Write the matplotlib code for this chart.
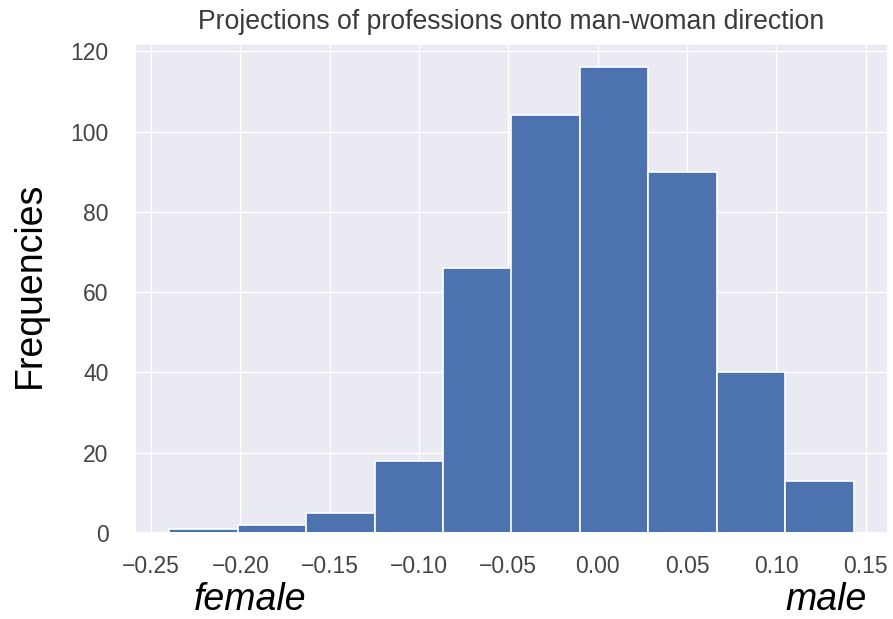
import numpy as np
import matplotlib
matplotlib.use("Agg")
import matplotlib.pyplot as plt
import seaborn as sns

# Data
bin_low = -0.2398
bin_high = 0.1433
counts = [1, 2, 5, 18, 66, 104, 116, 90, 40, 13]
x_ticks = [-0.25, -0.20, -0.15, -0.10, -0.05, 0.00, 0.05, 0.10, 0.15]
y_ticks = [0, 20, 40, 60, 80, 100, 120]

sns.set_theme(style="darkgrid")
plt.rcParams['font.family'] = ['Liberation Sans', 'DejaVu Sans']

edges = np.linspace(bin_low, bin_high, len(counts) + 1)
centers = (edges[:-1] + edges[1:]) / 2

fig = plt.figure(figsize=(8.93, 6.19), dpi=100)
ax = fig.add_axes([135 / 893, 1 - 533 / 619, (888 - 135) / 893, (533 - 44) / 619])
ax.hist(centers, bins=edges, weights=counts, color="#4C72B0", edgecolor="white", linewidth=1.2)
ax.set_xticks(x_ticks)
ax.set_xticklabels([f"{t:.2f}".replace("-", "\u2212") for t in x_ticks])
ax.set_yticks(y_ticks)
ax.tick_params(axis="both", labelsize=16.5, colors="#444444")
ax.tick_params(axis="x", pad=9.5)
ax.tick_params(axis="y", pad=13)
ax.set_title("Projections of professions onto man-woman direction", fontsize=19.2, color="#3a3a3a", pad=11)

fig.text(30 / 893, 1 - 285 / 619, "Frequencies", rotation=90, fontsize=27, ha="center", va="center", color="black")
fig.text(250 / 893, 1 - 600 / 619, "female", style="italic", fontsize=27, ha="center", va="center", color="black")
fig.text(826 / 893, 1 - 600 / 619, "male", style="italic", fontsize=27, ha="center", va="center", color="black")

fig.savefig("out.png", dpi=100)
